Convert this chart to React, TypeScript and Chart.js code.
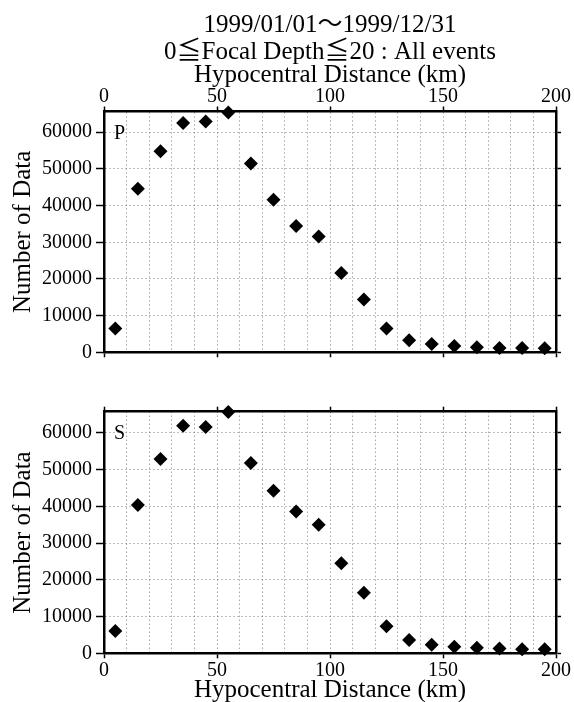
import React, { useEffect, useRef } from 'react';
import { Chart, registerables } from 'chart.js';

Chart.register(...registerables);

// ---- data ----
const distanceKm = [5, 15, 25, 35, 45, 55, 65, 75, 85, 95, 105, 115, 125, 135, 145, 155, 165, 175, 185, 195];
const pCounts = [6500, 44600, 54800, 62500, 62900, 65400, 51500, 41600, 34400, 31600, 21600, 14400, 6500, 3300, 2250, 1700, 1350, 1200, 1200, 1100];
const sCounts = [6100, 40400, 52900, 62000, 61600, 65700, 51800, 44300, 38600, 35000, 24500, 16500, 7400, 3650, 2300, 1800, 1500, 1300, 1100, 1100];
const titleLines = ['1999/01/01～1999/12/31', '0≦Focal Depth≦20 : All events'];
const xAxisTitle = 'Hypocentral Distance (km)';
const yAxisTitle = 'Number of Data';
const pPanelLabel = 'P';
const sPanelLabel = 'S';
const xTickValues = [0, 10, 20, 30, 40, 50, 60, 70, 80, 90, 100, 110, 120, 130, 140, 150, 160, 170, 180, 190, 200];
const xLabelStep = 50;
const yTickValues = [0, 10000, 20000, 30000, 40000, 50000, 60000];
const xMin = 0;
const xMax = 200;
const pYMax = 65650;
const sYMax = 65800;

const FONT = "'Liberation Serif', 'Times New Roman', 'Noto Sans CJK JP', serif";

const panelLabelPlugin = {
  id: 'panelLabel',
  afterDraw(chart: any, _args: any, opts: any) {
    const { ctx, chartArea } = chart;
    ctx.save();
    ctx.font = `20px ${FONT}`;
    ctx.fillStyle = '#000';
    ctx.textBaseline = 'middle';
    ctx.textAlign = 'left';
    ctx.fillText(opts.text, chartArea.left + 10, chartArea.top + 22.5);
    ctx.restore();
  },
};

const xTickColor = (c: any) => (c.tick && c.tick.value % xLabelStep === 0 ? '#000' : 'rgba(0,0,0,0)');
const setXTicks = (s: any) => {
  s.ticks = xTickValues.map((v) => ({ value: v }));
};
const setYTicks = (s: any) => {
  s.ticks = yTickValues.map((v) => ({ value: v }));
};

const GRID_COLOR = '#7a7a7a';
const GRID_DASH = [1, 3];

function makeConfig(opts: {
  values: number[];
  yMax: number;
  panel: string;
  isTop: boolean;
  height: number;
  areaTop: number;
  areaBottom: number;
}): any {
  const { values, yMax, panel, isTop, height, areaTop, areaBottom } = opts;
  const titleBoxHeight = isTop ? 64.5 : 0;
  const labelledX: any = {
    type: 'linear',
    position: isTop ? 'top' : 'bottom',
    min: xMin,
    max: xMax,
    afterBuildTicks: setXTicks,
    afterFit: (s: any) => {
      s.height = isTop ? areaTop - titleBoxHeight : height - areaBottom;
    },
    ticks: {
      autoSkip: false,
      maxRotation: 0,
      padding: isTop ? 0 : 2,
      color: '#000',
      font: { family: FONT, size: 20, lineHeight: 1 },
      callback: (v: any) => (Number(v) % xLabelStep === 0 ? String(v) : ''),
    },
    grid: {
      color: GRID_COLOR,
      lineWidth: 1,
      drawTicks: true,
      tickLength: 5,
      tickWidth: 1.5,
      tickColor: xTickColor,
      tickBorderDash: [],
    },
    border: { display: true, color: '#000', width: 2.5, dash: GRID_DASH },
    title: {
      display: true,
      text: xAxisTitle,
      color: '#000',
      font: { family: FONT, size: 25, lineHeight: '20px' },
      padding: isTop ? { top: 0, bottom: 0 } : { top: 0, bottom: 2 },
    },
  };
  const plainX: any = {
    type: 'linear',
    position: isTop ? 'bottom' : 'top',
    min: xMin,
    max: xMax,
    afterBuildTicks: setXTicks,
    afterFit: (s: any) => {
      s.height = isTop ? height - areaBottom : areaTop;
    },
    ticks: { display: false, autoSkip: false },
    grid: {
      drawOnChartArea: false,
      drawTicks: true,
      tickLength: 5,
      tickWidth: 1.5,
      tickColor: xTickColor,
      tickBorderDash: [],
    },
    border: { display: true, color: '#000', width: 2.5 },
  };
  return {
    type: 'scatter',
    data: {
      datasets: [
        {
          data: distanceKm.map((x, i) => ({ x, y: values[i] })),
          xAxisID: 'x',
          yAxisID: 'y',
          pointStyle: 'rectRot',
          pointRadius: 7,
          pointHoverRadius: 7,
          backgroundColor: '#000',
          borderColor: '#000',
          borderWidth: 0,
          clip: false,
        },
      ],
    },
    options: {
      responsive: false,
      animation: false,
      events: [],
      layout: { padding: 0 },
      scales: {
        x: labelledX,
        x2: plainX,
        y: {
          type: 'linear',
          position: 'left',
          min: 0,
          max: yMax,
          afterBuildTicks: setYTicks,
          afterFit: (s: any) => {
            s.width = 104;
          },
          ticks: {
            autoSkip: false,
            padding: 4,
            color: '#000',
            font: { family: FONT, size: 20, lineHeight: 1 },
            callback: (v: any) => String(v),
          },
          grid: {
            color: GRID_COLOR,
            lineWidth: 1,
            drawTicks: true,
            tickLength: 8,
            tickWidth: 1.5,
            tickColor: '#000',
            tickBorderDash: [],
          },
          border: { display: true, color: '#000', width: 2.5, dash: GRID_DASH },
          title: {
            display: true,
            text: yAxisTitle,
            color: '#000',
            font: { family: FONT, size: 25, lineHeight: '20px' },
            padding: { top: 13, bottom: 0 },
          },
        },
        y2: {
          type: 'linear',
          position: 'right',
          min: 0,
          max: yMax,
          afterBuildTicks: setYTicks,
          afterFit: (s: any) => {
            s.width = 18;
          },
          ticks: { display: false, autoSkip: false },
          grid: {
            drawOnChartArea: false,
            drawTicks: true,
            tickLength: 5,
            tickWidth: 1.5,
            tickColor: '#000',
            tickBorderDash: [],
          },
          border: { display: true, color: '#000', width: 2.5 },
        },
      },
      plugins: {
        legend: { display: false },
        tooltip: { enabled: false },
        title: {
          display: isTop,
          text: titleLines,
          color: '#000',
          fullSize: false,
          font: { family: FONT, size: 25, weight: 'normal', lineHeight: '26.5px' },
          padding: { top: 12.5, bottom: 0 },
        },
        panelLabel: { text: panel },
      },
    },
    plugins: [panelLabelPlugin],
  };
}

function Panel(props: {
  values: number[];
  yMax: number;
  panel: string;
  isTop: boolean;
  top: number;
  height: number;
  areaTop: number;
  areaBottom: number;
}) {
  const ref = useRef<HTMLCanvasElement | null>(null);
  useEffect(() => {
    if (!ref.current) return;
    const chart = new Chart(
      ref.current,
      makeConfig({
        values: props.values,
        yMax: props.yMax,
        panel: props.panel,
        isTop: props.isTop,
        height: props.height,
        areaTop: props.areaTop,
        areaBottom: props.areaBottom,
      })
    );
    return () => chart.destroy();
  }, []);
  return (
    <canvas
      ref={ref}
      width={574}
      height={props.height}
      style={{ position: 'absolute', left: 0, top: props.top, width: 574, height: props.height, display: 'block' }}
    />
  );
}

export default function App() {
  return (
    <div style={{ position: 'absolute', left: 0, top: 0, width: 574, height: 702, background: '#fff', overflow: 'hidden' }}>
      <Panel values={pCounts} yMax={pYMax} panel={pPanelLabel} isTop={true} top={0} height={380} areaTop={110.5} areaBottom={352.3} />
      <Panel values={sCounts} yMax={sYMax} panel={sPanelLabel} isTop={false} top={380} height={322} areaTop={31.7} areaBottom={273.3} />
    </div>
  );
}
